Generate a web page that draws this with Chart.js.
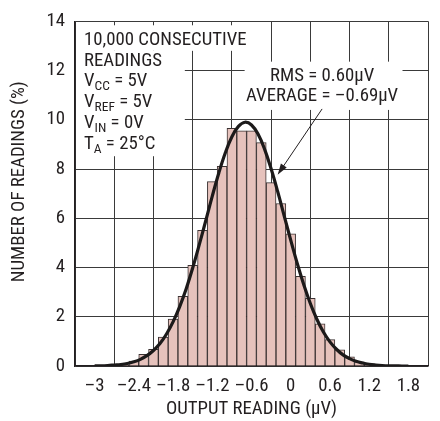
<!DOCTYPE html>
<html>
<head>
<meta charset="utf-8">
<script src="https://cdn.jsdelivr.net/npm/chart.js@4"></script>
<style>
  html, body { margin: 0; padding: 0; background: #fff; }
  canvas { display: block; }
</style>
</head>
<body>
<canvas id="histChart" width="440" height="421"></canvas>
<script>
// histogram bins (µV, bin centres) and their share of readings (%)
const binCenters = [-2.55, -2.4, -2.25, -2.1, -1.95, -1.8, -1.65, -1.5, -1.35, -1.2, -1.05, -0.9, -0.75,
  -0.6, -0.45, -0.3, -0.15, 0, 0.15, 0.3, 0.45, 0.6, 0.75, 0.9, 1.05, 1.2];
const binPercent = [0.04, 0.2, 0.47, 0.68, 1.17, 1.91, 2.83, 4.09, 5.51, 7.49, 8.11, 9.65, 9.55,
  9.55, 9.07, 7.45, 6.6, 5.37, 3.64, 2.75, 1.71, 1.07, 0.66, 0.37, 0.17, 0.05];

// fitted curve
const curveX = [-3, -2.9, -2.8, -2.7, -2.6, -2.5, -2.4, -2.3, -2.2, -2.1, -2, -1.9, -1.8, -1.7, -1.6,
  -1.5, -1.4, -1.3, -1.2, -1.1, -1, -0.9, -0.8, -0.7, -0.6, -0.5, -0.4, -0.3, -0.2, -0.1, 0,
  0.1, 0.2, 0.3, 0.4, 0.5, 0.6, 0.7, 0.8, 0.9, 1, 1.1, 1.2, 1.3, 1.4, 1.5, 1.6, 1.7, 1.8];
const curveY = [0.01, 0.01, 0.02, 0.04, 0.06, 0.1, 0.17, 0.27, 0.42, 0.63, 0.91, 1.3, 1.79, 2.4, 3.13,
  3.98, 4.92, 5.9, 6.9, 7.84, 8.66, 9.31, 9.73, 9.9, 9.79, 9.42, 8.81, 8.01, 7.09, 6.1, 5.11,
  4.16, 3.3, 2.54, 1.9, 1.38, 0.98, 0.68, 0.45, 0.3, 0.19, 0.12, 0.07, 0.04, 0.02, 0.01, 0.01, 0, 0];

const xMin = -3, xMax = 1.8, xStep = 0.6;
const yMin = 0, yMax = 14, yStep = 2;

const conditionLines = [
  [["10,000 CONSECUTIVE", ""]],
  [["READINGS", ""]],
  [["V", ""], ["CC", "sub"], [" = 5V", ""]],
  [["V", ""], ["REF", "sub"], [" = 5V", ""]],
  [["V", ""], ["IN", "sub"], [" = 0V", ""]],
  [["T", ""], ["A", "sub"], [" = 25°C", ""]],
];
const statLines = ["RMS = 0.60µV", "AVERAGE = –0.69µV"];
// arrow from the stats label to the curve, in data units
const arrowFrom = { x: 0.48, y: 10.44 };
const arrowTo = { x: -0.2, y: 7.77 };

const FONT = "'Roboto Condensed', 'Liberation Sans', Arial, sans-serif";
const FSIZE = 18.8;
const INK = "#231f20";
const GRID = "#3a3a3a";

function fmtTick(v) {
  const r = Math.round(v * 10) / 10;
  return r < 0 ? "–" + Math.abs(r) : String(r);
}

function drawParts(ctx, parts, x, y) {
  for (const [txt, kind] of parts) {
    if (kind === "sub") {
      ctx.font = "13.5px " + FONT;
      ctx.fillText(txt, x, y + 4);
    } else {
      ctx.font = FSIZE + "px " + FONT;
      ctx.fillText(txt, x, y);
    }
    x += ctx.measureText(txt).width;
  }
}

const notesPlugin = {
  id: "notes",
  beforeDatasetsDraw(chart) {
    const { ctx, chartArea: a, scales: { x, y } } = chart;
    ctx.save();
    // white backgrounds behind the text blocks hide the grid
    ctx.fillStyle = "#fff";
    ctx.fillRect(a.left + 1, a.top + 4, x.getPixelForValue(-0.54) - a.left - 1, y.getPixelForValue(12.8) - a.top - 4);
    ctx.fillRect(a.left + 1, y.getPixelForValue(12.8), x.getPixelForValue(-1.62) - a.left - 1,
      y.getPixelForValue(8.52) - y.getPixelForValue(12.8));
    ctx.fillRect(x.getPixelForValue(-0.705), y.getPixelForValue(12.36),
      x.getPixelForValue(1.71) - x.getPixelForValue(-0.705), y.getPixelForValue(10.4) - y.getPixelForValue(12.36));

    ctx.fillStyle = INK;
    ctx.textAlign = "left";
    ctx.textBaseline = "alphabetic";
    conditionLines.forEach((parts, i) => {
      drawParts(ctx, parts, a.left + 9, a.top + 23.5 + i * 20.8);
    });

    ctx.font = FSIZE + "px " + FONT;
    ctx.textAlign = "center";
    const cx = x.getPixelForValue(0.48);
    ctx.fillText(statLines[0], cx, y.getPixelForValue(11.56));
    ctx.fillText(statLines[1], cx, y.getPixelForValue(10.75));
    ctx.restore();
  },
  afterDraw(chart) {
    const { ctx, chartArea: a, scales: { x, y } } = chart;
    ctx.save();
    // arrow
    const x0 = x.getPixelForValue(arrowFrom.x), y0 = y.getPixelForValue(arrowFrom.y);
    const x1 = x.getPixelForValue(arrowTo.x), y1 = y.getPixelForValue(arrowTo.y);
    const ang = Math.atan2(y1 - y0, x1 - x0);
    ctx.strokeStyle = INK;
    ctx.fillStyle = INK;
    ctx.lineWidth = 1;
    ctx.beginPath();
    ctx.moveTo(x0, y0);
    ctx.lineTo(x1 - 8 * Math.cos(ang), y1 - 8 * Math.sin(ang));
    ctx.stroke();
    ctx.beginPath();
    ctx.moveTo(x1, y1);
    ctx.lineTo(x1 - 11 * Math.cos(ang) + 3.5 * Math.sin(ang), y1 - 11 * Math.sin(ang) - 3.5 * Math.cos(ang));
    ctx.lineTo(x1 - 11 * Math.cos(ang) - 3.5 * Math.sin(ang), y1 - 11 * Math.sin(ang) + 3.5 * Math.cos(ang));
    ctx.closePath();
    ctx.fill();

    // y axis title
    ctx.translate(19, (a.top + a.bottom) / 2 - 12);
    ctx.rotate(-Math.PI / 2);
    ctx.font = FSIZE + "px " + FONT;
    ctx.textAlign = "center";
    ctx.textBaseline = "middle";
    ctx.fillText("NUMBER OF READINGS (%)", 0, 0);
    ctx.restore();
  },
};

window.addEventListener("load", () => {
  const ctx = document.getElementById("histChart").getContext("2d");
  new Chart(ctx, {
    type: "bar",
    data: {
      datasets: [
        {
          type: "line",
          data: curveX.map((v, i) => ({ x: v, y: curveY[i] })),
          borderColor: "#1c1a1a",
          borderWidth: 3.2,
          pointRadius: 0,
          tension: 0.4,
          fill: false,
          order: 0,
        },
        {
          type: "bar",
          data: binCenters.map((v, i) => ({ x: v, y: binPercent[i] })),
          backgroundColor: "#e6c2bc",
          borderColor: "#3b3232",
          borderWidth: 1,
          barPercentage: 1,
          categoryPercentage: 1,
          order: 1,
        },
      ],
    },
    options: {
      responsive: false,
      animation: false,
      layout: { padding: { top: 16, right: 12, left: 0, bottom: 0 } },
      plugins: {
        legend: { display: false },
        tooltip: { enabled: false },
      },
      scales: {
        x: {
          type: "linear",
          min: xMin,
          max: xMax,
          ticks: {
            stepSize: xStep,
            color: INK,
            font: { family: FONT, size: FSIZE },
            padding: 9,
            maxRotation: 0,
            callback: fmtTick,
          },
          grid: { color: GRID, lineWidth: 1, drawTicks: false },
          border: { color: INK, width: 1.5 },
          title: {
            display: true,
            text: "OUTPUT READING (µV)",
            color: INK,
            font: { family: FONT, size: FSIZE },
            padding: { top: 5, bottom: 0 },
          },
          afterFit: (s) => { s.height = 55; },
        },
        y: {
          min: yMin,
          max: yMax,
          ticks: {
            stepSize: yStep,
            color: INK,
            font: { family: FONT, size: FSIZE },
            padding: 10,
          },
          grid: { color: GRID, lineWidth: 1, drawTicks: false },
          border: { color: INK, width: 1.5 },
          afterFit: (s) => { s.width = 75; },
        },
      },
    },
    plugins: [notesPlugin],
  });
});
</script>
</body>
</html>
